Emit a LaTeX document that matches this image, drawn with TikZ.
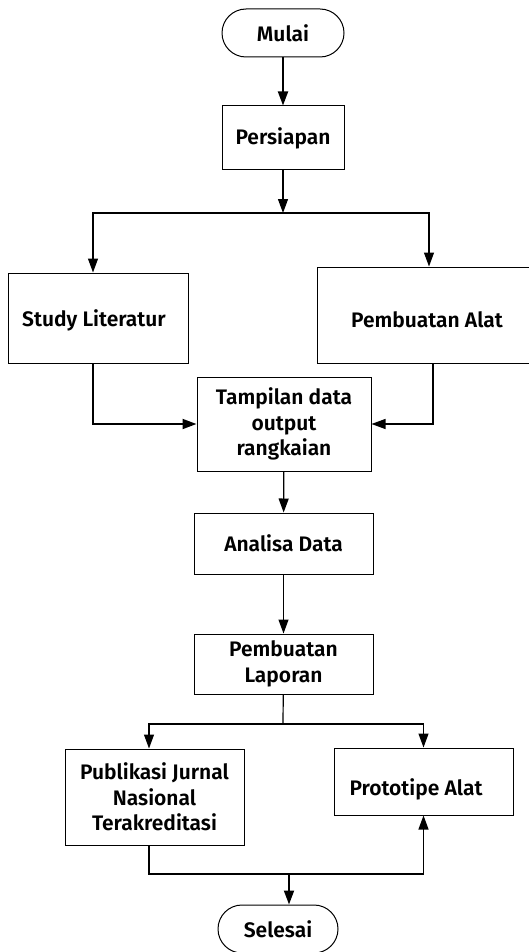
\documentclass[tikz,border=0pt]{standalone}
\usepackage{fontspec}
\setmainfont{Fira Sans}[UprightFont=* SemiBold]
\usetikzlibrary{arrows.meta,calc}
\tikzset{
  label font/.style={font=\fontsize{21}{25.5}\selectfont},
  box/.style={draw, line width=1pt, rectangle, inner sep=0pt, align=center, label font},
  terminal/.style={box, rounded corners=24pt},
  link/.style={line width=1.2pt, -{Triangle[length=14pt,width=10pt]}},
  wire/.style={line width=1.2pt},
  heavy/.style={line width=1.8pt},
}
\begin{document}
\begin{tikzpicture}[x=1pt,y=-1pt]
  \useasboundingbox (0,0) rectangle (529,952);
  \clip (0,0) rectangle (529,952);

  % process boxes
  \node[terminal, minimum width=122pt, minimum height=48pt] (mulai) at (283,33) {Mulai};
  \node[box, minimum width=122pt, minimum height=64pt] (persiapan) at (283,138) {Persiapan};
  \node[box, minimum width=180pt, minimum height=90pt] (study) at (98,318) {};
  \node[label font] at (94,320) {Study Literatur};
  \node[box, minimum width=218pt, minimum height=96pt] (alat) at (426,315) {};
  \node[label font] at (427,320) {Pembuatan Alat};
  \node[box, minimum width=174pt, minimum height=94pt] (tampilan) at (284,424) {Tampilan data\\output\\rangkaian};
  \node[box, minimum width=179pt, minimum height=61pt] (analisa) at (283.5,543.5) {Analisa Data};
  \node[box, minimum width=179pt, minimum height=60pt] (laporan) at (283.5,664) {Pembuatan\\Laporan};
  \node[box, minimum width=179pt, minimum height=96pt] (publikasi) at (154.5,797) {Publikasi Jurnal\\Nasional\\Terakreditasi};
  \node[box, minimum width=179pt, minimum height=67pt] (prototipe) at (423.5,781.5) {};
  \node[label font] at (416,789) {Prototipe Alat};
  \node[terminal, minimum width=120pt, minimum height=48pt] (selesai) at (278,929) {Selesai};

  % junction points
  \coordinate (j1) at (283,213);
  \coordinate (j2) at (283,724);
  \coordinate (j3) at (289,874);

  % connectors
  \draw[link, heavy] (mulai) -- (persiapan);
  \draw[link] (persiapan) -- (j1);
  \draw[link] (j1) -| ($(study.north)+(-5,0)$);
  \draw[link] (j1) -| ($(alat.north)+(3,0)$);
  \draw[link, heavy] ($(study.south)+(-5,0)$) |- (tampilan.west);
  \draw[link] ($(alat.south)+(7,0)$) |- (tampilan.east);
  \draw[link] (tampilan) -- (analisa);
  \draw[link] (analisa) -- (laporan);
  \draw[wire] (laporan) -- (j2);
  \draw[link] (j2) -| ($(publikasi.north)+(-5.5,0)$);
  \draw[link] (j2) -| (prototipe.north);
  \draw[heavy] ($(publikasi.south)+(-5.5,0)$) |- (j3);
  \draw[link] (j3) -| (prototipe.south);
  \draw[link, heavy] (j3) -- (j3 |- selesai.north);
\end{tikzpicture}
\end{document}
